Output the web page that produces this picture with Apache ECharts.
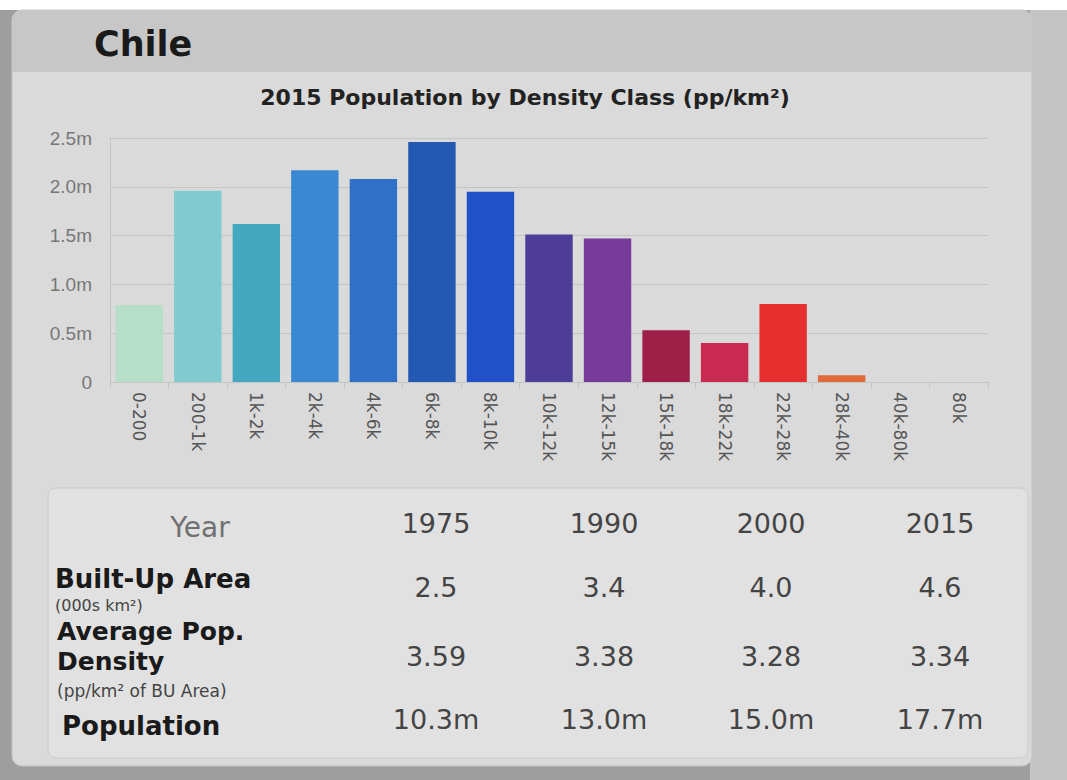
<!DOCTYPE html>
<html>
<head>
<meta charset="utf-8">
<script src="https://cdn.jsdelivr.net/npm/echarts@6/dist/echarts.min.js"></script>
<style>
  html, body { margin: 0; padding: 0; background: #9e9e9e; }
  #chart { width: 1067px; height: 780px; }
</style>
</head>
<body>
<div id="chart"></div>
<script>
// ---- Data ----
const countryName = 'Chile';
const chartTitle = '2015 Population by Density Class (pp/km²)';
const categories = ['0-200', '200-1k', '1k-2k', '2k-4k', '4k-6k', '6k-8k', '8k-10k', '10k-12k', '12k-15k', '15k-18k', '18k-22k', '22k-28k', '28k-40k', '40k-80k', '80k'];
const population2015 = [790000, 1960000, 1620000, 2170000, 2080000, 2460000, 1950000, 1510000, 1470000, 530000, 400000, 800000, 70000, 0, 0];
const barColors = ['#b7dec8', '#7fcbd0', '#44a9c0', '#3a88d2', '#2f70c8', '#2359b2', '#2250c8', '#4e3d98', '#763a98', '#9e2048', '#c82a50', '#e63030', '#e06a3a', '#e06a3a', '#e06a3a'];

const years = ['1975', '1990', '2000', '2015'];
const builtUpArea = [2.5, 3.4, 4.0, 4.6];
const avgDensity = [3.59, 3.38, 3.28, 3.34];
const totalPopulation = [10.3, 13.0, 15.0, 17.7];

// ---- Layout ----
const chart = echarts.init(document.getElementById('chart'), null, { renderer: 'svg' });
const colX = [436, 604, 771, 940];
const FONT = '"DejaVu Sans", Verdana, sans-serif';

function txt(text, x, y, size, color, weight, align) {
  return {
    type: 'text', z: 10,
    style: {
      text: text, x: x, y: y,
      font: (weight || 'normal') + ' ' + size + 'px ' + FONT,
      fill: color,
      align: align || 'left', textAlign: align || 'left',
      verticalAlign: 'middle', textVerticalAlign: 'middle'
    }
  };
}

const graphics = [
  { type: 'rect', z: -100, shape: { x: 0, y: 0, width: 1067, height: 10 }, style: { fill: '#ffffff' } },
  { type: 'rect', z: -99, shape: { x: 1030, y: 10, width: 37, height: 770 }, style: { fill: '#c4c4c4' } },
  { type: 'rect', z: -98, shape: { x: 12, y: 10, width: 1020, height: 756, r: 10 }, style: { fill: '#dadada', stroke: '#c4c4c4' } },
  { type: 'rect', z: -97, shape: { x: 12, y: 10, width: 1020, height: 62, r: [10, 10, 0, 0] }, style: { fill: '#c7c7c7' } },
  { type: 'rect', z: -96, shape: { x: 48, y: 488, width: 980, height: 270, r: 8 }, style: { fill: '#e1e1e1', stroke: '#cacaca' } },
  txt(countryName, 94, 44, 35, '#1a1a1a', 'bold'),
  txt(chartTitle, 525, 97, 22, '#222', 'bold', 'center'),
  txt('Year', 200, 527, 28, '#707070', 'normal', 'center'),
  txt('Built-Up Area', 55, 579, 26, '#1a1a1a', 'bold'),
  txt('(000s km²)', 55, 605, 16, '#444'),
  txt('Average Pop.', 57, 631, 25, '#1a1a1a', 'bold'),
  txt('Density', 57, 661, 25, '#1a1a1a', 'bold'),
  txt('(pp/km² of BU Area)', 57, 691, 17, '#444'),
  txt('Population', 62, 726, 26, '#1a1a1a', 'bold')
];
years.forEach((y, i) => {
  graphics.push(txt(y, colX[i], 523, 27, '#444', 'normal', 'center'));
  graphics.push(txt(builtUpArea[i].toFixed(1), colX[i], 587, 27, '#444', 'normal', 'center'));
  graphics.push(txt(avgDensity[i].toFixed(2), colX[i], 656, 27, '#444', 'normal', 'center'));
  graphics.push(txt(totalPopulation[i].toFixed(1) + 'm', colX[i], 719, 27, '#444', 'normal', 'center'));
});

const option = {
  backgroundColor: 'transparent',
  animation: false,
  graphic: { elements: graphics },
  grid: { left: 110, right: 79, top: 138, bottom: 398, containLabel: false },
  xAxis: {
    type: 'category',
    data: categories,
    axisLine: { show: true, lineStyle: { color: '#c4c4c4' } },
    axisTick: { show: true, length: 6, lineStyle: { color: '#c4c4c4' } },
    axisLabel: { rotate: -90, margin: 10, color: '#555', fontSize: 17, fontFamily: FONT }
  },
  yAxis: {
    type: 'value',
    min: 0, max: 2500000, interval: 500000,
    axisLine: { show: true, lineStyle: { color: '#c4c4c4' } },
    axisTick: { show: false },
    splitLine: { show: true, lineStyle: { color: '#c4c4c4' } },
    axisLabel: {
      margin: 18, color: '#777', fontSize: 19, fontFamily: 'Arial, "Liberation Sans", sans-serif',
      formatter: v => v === 0 ? '0' : (v / 1e6).toFixed(1) + 'm'
    }
  },
  series: [{
    type: 'bar',
    barWidth: '81%',
    data: population2015.map((v, i) => ({ value: v, itemStyle: { color: barColors[i] } }))
  }]
};
chart.setOption(option);
</script>
</body>
</html>
